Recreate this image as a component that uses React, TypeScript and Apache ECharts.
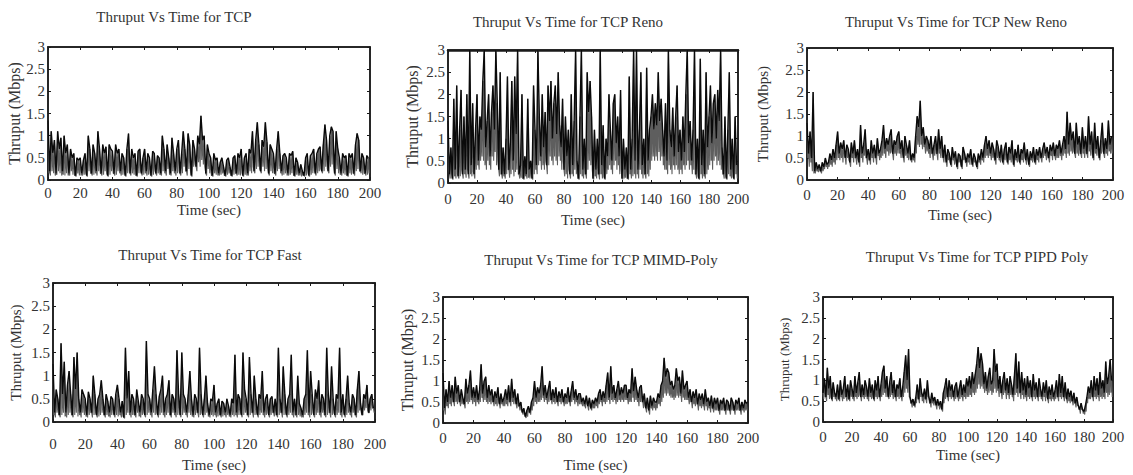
import React, { useEffect, useRef } from "react";
import * as echarts from "echarts";

// Throughput (Mbps) sampled once per second, t = 0 .. 199 s
const tcp = [
  1.35, 0.2, 1.1, 0.6, 0.9, 0.15, 1.1, 0.7, 0.95, 0.2,
  1.0, 0.6, 0.8, 0.15, 0.7, 0.5, 0.6, 0.1, 0.5, 0.45,
  0.5, 0.15, 0.45, 0.6, 0.1, 1.0, 0.7, 0.15, 0.8, 0.6,
  0.2, 1.1, 0.7, 0.15, 0.8, 0.6, 0.75, 0.1, 0.8, 0.7,
  0.65, 0.15, 0.8, 0.6, 0.7, 0.2, 0.6, 0.5, 0.1, 0.7,
  1.05, 0.15, 0.7, 0.5, 0.6, 0.1, 0.65, 0.7, 0.15, 0.5,
  0.7, 0.2, 0.6, 0.5, 0.1, 0.65, 0.6, 0.15, 0.55, 0.5,
  0.15, 1.0, 0.7, 0.2, 0.8, 0.5, 0.15, 0.95, 0.6, 0.2,
  0.7, 0.9, 0.15, 0.6, 1.1, 0.7, 0.2, 1.05, 0.8, 0.1,
  0.9, 0.7, 0.3, 1.0, 0.8, 1.45, 0.9, 1.0, 0.15, 0.8,
  0.6, 0.5, 0.1, 0.6, 0.45, 0.5, 0.15, 0.4, 0.5, 0.3,
  0.1, 0.45, 0.5, 0.3, 0.1, 0.5, 0.55, 0.15, 0.6, 0.5,
  0.7, 0.1, 0.5, 0.6, 0.15, 0.7, 0.6, 1.1, 0.2, 0.9,
  1.3, 0.8, 0.2, 0.9, 0.75, 1.3, 0.85, 0.15, 0.8, 0.7,
  0.6, 0.15, 0.7, 1.1, 0.6, 0.2, 0.55, 0.6, 0.5, 0.15,
  0.6, 0.55, 0.65, 0.1, 0.5, 0.4, 0.15, 0.35, 0.2, 0.1,
  0.5, 0.6, 0.1, 0.55, 0.6, 0.7, 0.15, 0.6, 0.7, 0.75,
  0.2, 0.8, 1.25, 0.9, 0.2, 1.0, 1.2, 1.1, 0.15, 1.1,
  0.7, 0.5, 0.15, 0.6, 0.5, 0.55, 0.1, 0.6, 0.5, 0.6,
  0.15, 0.8, 1.05, 0.9, 0.2, 0.6, 0.5, 0.15, 0.55, 0.5,
];
// troughs between consecutive samples (t + 0.5 s)
const tcpLow = [
  0.15, 0.1, 0.2, 0.15, 0.1, 0.12, 0.2, 0.15, 0.1, 0.12,
  0.1, 0.15, 0.1, 0.1, 0.2, 0.12, 0.1, 0.08, 0.15, 0.1,
  0.1, 0.1, 0.12, 0.15, 0.08, 0.2, 0.15, 0.1, 0.12, 0.15,
  0.1, 0.2, 0.15, 0.1, 0.12, 0.2, 0.15, 0.08, 0.12, 0.2,
  0.15, 0.1, 0.12, 0.2, 0.15, 0.1, 0.12, 0.15, 0.08, 0.15,
  0.2, 0.1, 0.15, 0.12, 0.1, 0.08, 0.15, 0.2, 0.1, 0.12,
  0.15, 0.1, 0.12, 0.15, 0.08, 0.12, 0.2, 0.1, 0.15, 0.12,
  0.1, 0.2, 0.15, 0.1, 0.25, 0.12, 0.1, 0.2, 0.15, 0.1,
  0.15, 0.2, 0.1, 0.15, 0.3, 0.2, 0.1, 0.25, 0.2, 0.08,
  0.3, 0.35, 0.2, 0.4, 0.3, 0.45, 0.35, 0.3, 0.1, 0.25,
  0.15, 0.1, 0.08, 0.15, 0.12, 0.1, 0.1, 0.12, 0.15, 0.1,
  0.08, 0.12, 0.15, 0.1, 0.08, 0.12, 0.15, 0.1, 0.12, 0.1,
  0.15, 0.08, 0.12, 0.1, 0.1, 0.2, 0.15, 0.3, 0.15, 0.25,
  0.3, 0.25, 0.15, 0.3, 0.2, 0.25, 0.3, 0.1, 0.2, 0.15,
  0.15, 0.1, 0.2, 0.25, 0.15, 0.1, 0.12, 0.15, 0.1, 0.1,
  0.12, 0.15, 0.1, 0.08, 0.12, 0.1, 0.1, 0.08, 0.1, 0.08,
  0.1, 0.15, 0.08, 0.12, 0.15, 0.2, 0.1, 0.15, 0.2, 0.25,
  0.15, 0.2, 0.3, 0.25, 0.15, 0.3, 0.35, 0.3, 0.1, 0.25,
  0.15, 0.12, 0.1, 0.15, 0.12, 0.1, 0.08, 0.15, 0.12, 0.15,
  0.1, 0.2, 0.25, 0.2, 0.15, 0.12, 0.15, 0.1, 0.12, 0.15,
];

const reno = [
  1.4, 0.2, 0.8, 0.1, 1.9, 0.3, 2.2, 0.15, 1.2, 2.1,
  0.2, 1.5, 0.3, 2.0, 0.2, 3.0, 0.4, 1.8, 0.2, 1.2,
  2.0, 0.5, 1.5, 1.2, 2.3, 3.0, 0.8, 1.4, 2.0, 0.6,
  1.6, 2.2, 1.2, 3.0, 1.8, 0.3, 2.5, 0.2, 0.8, 0.2,
  1.0, 2.4, 0.3, 0.9, 2.3, 0.5, 2.4, 1.1, 3.0, 0.2,
  0.4, 2.0, 0.1, 0.6, 0.2, 1.9, 0.3, 0.5, 0.1, 2.2,
  1.2, 0.4, 3.0, 1.5, 0.6, 2.0, 0.8, 1.6, 0.4, 2.2,
  1.4, 2.3, 1.0, 1.8, 2.2, 1.1, 2.5, 1.3, 0.8, 1.9,
  0.3, 1.5, 0.6, 1.2, 0.2, 2.0, 0.4, 1.4, 3.0, 0.5,
  0.1, 1.5, 3.0, 0.3, 1.0, 0.2, 2.5, 1.6, 2.3, 1.5,
  0.1, 1.2, 0.3, 1.0, 0.2, 3.0, 0.4, 1.3, 0.1, 1.0,
  0.6, 2.0, 1.2, 0.5, 1.8, 2.0, 0.9, 1.5, 0.6, 2.1,
  0.1, 1.0, 0.3, 0.8, 0.1, 2.4, 0.3, 1.0, 3.0, 0.5,
  3.0, 0.3, 1.2, 2.5, 0.4, 1.0, 0.2, 2.6, 0.5, 1.2,
  1.5, 2.0, 1.2, 1.8, 1.3, 2.5, 1.4, 1.9, 1.2, 0.6,
  1.8, 0.5, 3.0, 1.2, 0.8, 1.7, 0.6, 1.5, 2.2, 0.7,
  1.2, 0.5, 1.5, 0.7, 2.0, 3.0, 0.9, 1.4, 0.5, 1.2,
  3.0, 0.2, 1.0, 0.1, 2.8, 0.4, 1.2, 0.2, 2.5, 0.8,
  1.5, 2.2, 0.9, 1.8, 2.0, 1.0, 2.1, 1.4, 3.0, 0.8,
  0.2, 1.5, 0.1, 1.2, 2.5, 0.3, 1.0, 0.1, 1.5, 0.4,
];
const renoLow = [
  0.3, 0.1, 0.2, 0.08, 0.15, 0.1, 0.2, 0.1, 0.15, 0.3,
  0.1, 0.2, 0.12, 0.3, 0.1, 0.2, 0.15, 0.25, 0.1, 0.3,
  0.4, 0.3, 0.5, 0.6, 0.5, 0.4, 0.3, 0.5, 0.4, 0.3,
  0.6, 0.5, 0.7, 0.4, 0.5, 0.15, 0.2, 0.1, 0.15, 0.1,
  0.2, 0.3, 0.12, 0.2, 0.3, 0.15, 0.25, 0.3, 0.2, 0.1,
  0.12, 0.1, 0.08, 0.15, 0.1, 0.12, 0.1, 0.15, 0.08, 0.2,
  0.3, 0.2, 0.4, 0.5, 0.3, 0.4, 0.3, 0.5, 0.2, 0.4,
  0.6, 0.5, 0.4, 0.6, 0.5, 0.4, 0.6, 0.5, 0.3, 0.5,
  0.15, 0.2, 0.1, 0.3, 0.1, 0.2, 0.15, 0.3, 0.2, 0.1,
  0.08, 0.2, 0.15, 0.1, 0.2, 0.1, 0.3, 0.5, 0.4, 0.3,
  0.08, 0.15, 0.1, 0.2, 0.08, 0.2, 0.1, 0.15, 0.08, 0.2,
  0.3, 0.4, 0.3, 0.2, 0.4, 0.5, 0.3, 0.4, 0.2, 0.3,
  0.08, 0.1, 0.12, 0.1, 0.08, 0.2, 0.1, 0.15, 0.2, 0.1,
  0.2, 0.1, 0.3, 0.2, 0.1, 0.2, 0.1, 0.2, 0.15, 0.3,
  0.5, 0.6, 0.5, 0.6, 0.5, 0.7, 0.5, 0.6, 0.4, 0.3,
  0.3, 0.2, 0.4, 0.3, 0.2, 0.4, 0.3, 0.4, 0.3, 0.2,
  0.3, 0.2, 0.4, 0.3, 0.4, 0.5, 0.3, 0.4, 0.2, 0.3,
  0.2, 0.1, 0.15, 0.08, 0.2, 0.1, 0.15, 0.1, 0.2, 0.3,
  0.4, 0.5, 0.3, 0.5, 0.6, 0.4, 0.5, 0.4, 0.3, 0.2,
  0.1, 0.15, 0.08, 0.2, 0.15, 0.1, 0.15, 0.08, 0.2, 0.1,
];

const newReno = [
  1.3, 0.6, 1.1, 0.5, 2.0, 0.2, 0.4, 0.25, 0.35, 0.2,
  0.4, 0.3, 0.5, 0.35, 0.4, 0.6, 0.45, 0.7, 0.5, 0.8,
  1.1, 0.6, 0.85, 0.7, 0.9, 0.5, 0.8, 0.7, 0.4, 0.85,
  0.6, 0.9, 0.5, 0.7, 0.4, 1.25, 0.6, 0.8, 1.15, 0.5,
  0.7, 0.45, 0.9, 0.6, 0.8, 0.5, 0.95, 0.6, 0.7, 0.9,
  1.25, 0.7, 0.95, 0.8, 1.0, 1.15, 0.6, 0.9, 0.8, 1.0,
  1.1, 0.7, 0.9, 0.5, 1.0, 0.8, 0.6, 0.9, 0.45, 0.6,
  0.5, 1.0, 1.45, 1.2, 1.8, 1.0, 1.2, 0.8, 1.0, 0.9,
  0.7, 1.0, 0.6, 0.8, 1.0, 0.6, 1.15, 0.7, 1.0, 0.5,
  0.8, 0.4, 0.7, 0.6, 0.35, 0.75, 0.5, 0.65, 0.3, 0.6,
  0.55, 0.3, 0.75, 0.6, 0.4, 0.6, 0.5, 0.7, 0.35, 0.6,
  0.5, 0.3, 0.6, 0.45, 0.7, 0.5, 0.8, 1.0, 0.7, 0.9,
  0.6, 0.85, 0.7, 0.45, 0.9, 0.75, 0.5, 0.8, 0.4, 0.7,
  0.85, 0.4, 0.75, 0.6, 0.9, 0.35, 0.7, 0.5, 0.8, 0.4,
  0.7, 0.6, 0.85, 0.45, 0.7, 0.35, 0.65, 0.5, 0.75, 0.4,
  0.7, 0.55, 0.75, 0.5, 0.7, 0.85, 0.6, 0.75, 0.5, 0.8,
  0.65, 0.85, 0.55, 0.8, 0.7, 0.9, 0.6, 0.8, 1.0, 0.7,
  1.55, 0.8, 1.3, 0.9, 1.1, 0.6, 1.3, 0.8, 1.0, 0.6,
  1.2, 0.7, 1.0, 0.6, 1.45, 0.8, 1.1, 0.5, 1.3, 0.7,
  1.0, 0.5, 0.9, 1.3, 0.6, 0.95, 0.7, 1.35, 0.8, 1.0,
];
const newRenoLow = [
  0.5, 0.3, 0.4, 0.2, 0.15, 0.15, 0.2, 0.18, 0.2, 0.15,
  0.2, 0.25, 0.3, 0.25, 0.3, 0.35, 0.3, 0.4, 0.35, 0.45,
  0.5, 0.45, 0.5, 0.4, 0.55, 0.35, 0.5, 0.45, 0.3, 0.5,
  0.4, 0.5, 0.35, 0.45, 0.3, 0.5, 0.4, 0.55, 0.5, 0.35,
  0.45, 0.35, 0.5, 0.4, 0.5, 0.35, 0.55, 0.45, 0.5, 0.55,
  0.6, 0.5, 0.65, 0.55, 0.6, 0.65, 0.45, 0.6, 0.55, 0.6,
  0.6, 0.5, 0.6, 0.4, 0.55, 0.5, 0.45, 0.5, 0.4, 0.45,
  0.4, 0.6, 0.8, 0.75, 0.8, 0.7, 0.75, 0.6, 0.65, 0.6,
  0.5, 0.6, 0.45, 0.55, 0.6, 0.45, 0.6, 0.5, 0.55, 0.4,
  0.5, 0.3, 0.45, 0.4, 0.3, 0.45, 0.35, 0.4, 0.25, 0.4,
  0.35, 0.25, 0.45, 0.4, 0.3, 0.4, 0.35, 0.45, 0.3, 0.4,
  0.35, 0.25, 0.4, 0.35, 0.45, 0.4, 0.5, 0.55, 0.5, 0.55,
  0.45, 0.5, 0.45, 0.35, 0.5, 0.45, 0.4, 0.45, 0.35, 0.45,
  0.5, 0.35, 0.45, 0.4, 0.5, 0.3, 0.45, 0.4, 0.45, 0.35,
  0.45, 0.4, 0.5, 0.35, 0.45, 0.3, 0.45, 0.4, 0.45, 0.35,
  0.45, 0.4, 0.5, 0.4, 0.5, 0.55, 0.45, 0.5, 0.4, 0.55,
  0.45, 0.55, 0.45, 0.5, 0.5, 0.55, 0.45, 0.55, 0.6, 0.5,
  0.6, 0.55, 0.65, 0.6, 0.65, 0.5, 0.6, 0.55, 0.6, 0.5,
  0.6, 0.5, 0.6, 0.5, 0.65, 0.55, 0.6, 0.45, 0.6, 0.55,
  0.6, 0.45, 0.6, 0.65, 0.5, 0.6, 0.55, 0.65, 0.6, 0.6,
];

const fast = [
  1.25, 0.2, 0.7, 0.5, 0.15, 1.7, 0.6, 1.3, 0.2, 0.8,
  1.1, 0.6, 0.15, 1.4, 0.7, 1.5, 0.5, 0.2, 0.7, 0.6,
  0.5, 0.15, 0.65, 0.5, 0.2, 1.0, 0.6, 0.15, 0.5, 0.6,
  0.9, 0.5, 0.15, 0.6, 0.45, 0.2, 0.55, 0.5, 0.15, 0.6,
  0.8, 0.5, 0.2, 0.45, 0.1, 1.6, 0.5, 1.1, 0.2, 0.6,
  0.5, 0.15, 0.7, 0.45, 0.2, 0.6, 0.5, 0.15, 1.75, 0.6,
  0.5, 0.2, 0.7, 1.2, 0.6, 0.15, 0.55, 0.7, 1.0, 0.2,
  0.5, 0.6, 0.9, 0.15, 0.6, 0.5, 0.2, 1.55, 0.6, 0.15,
  1.5, 0.6, 0.5, 0.2, 0.6, 1.1, 0.5, 0.15, 0.6, 0.5,
  0.2, 1.6, 0.6, 0.15, 0.5, 1.0, 0.4, 0.15, 0.5, 0.45,
  0.8, 0.2, 0.4, 0.5, 0.15, 0.45, 0.4, 0.2, 0.5, 0.35,
  0.15, 0.5, 0.4, 1.45, 0.2, 0.6, 0.5, 0.15, 1.5, 0.7,
  0.5, 0.15, 1.4, 0.6, 0.2, 1.0, 0.5, 0.15, 0.6, 0.5,
  1.1, 0.2, 0.5, 0.6, 0.15, 0.5, 0.55, 0.2, 0.5, 0.15,
  1.6, 0.5, 0.2, 1.2, 0.6, 0.15, 0.5, 0.6, 1.45, 0.2,
  0.5, 0.15, 1.0, 0.4, 0.3, 0.15, 0.5, 0.6, 1.55, 0.2,
  1.1, 0.6, 0.15, 0.7, 0.5, 0.9, 0.2, 0.6, 0.5, 0.15,
  1.6, 0.6, 0.2, 1.2, 0.5, 0.15, 0.6, 0.5, 1.6, 0.2,
  0.6, 0.15, 0.5, 1.0, 0.4, 0.2, 0.6, 0.5, 0.15, 0.7,
  1.1, 0.4, 0.15, 0.6, 0.5, 0.8, 0.2, 0.5, 0.6, 0.3,
];
const fastLow = [
  0.15, 0.1, 0.2, 0.15, 0.1, 0.15, 0.2, 0.12, 0.1, 0.15,
  0.2, 0.15, 0.1, 0.15, 0.2, 0.12, 0.15, 0.1, 0.2, 0.15,
  0.12, 0.1, 0.15, 0.2, 0.1, 0.15, 0.2, 0.1, 0.12, 0.15,
  0.2, 0.15, 0.1, 0.15, 0.12, 0.1, 0.15, 0.2, 0.1, 0.15,
  0.12, 0.15, 0.1, 0.12, 0.08, 0.15, 0.2, 0.15, 0.1, 0.15,
  0.15, 0.1, 0.2, 0.12, 0.1, 0.15, 0.2, 0.1, 0.15, 0.2,
  0.15, 0.1, 0.2, 0.15, 0.2, 0.1, 0.15, 0.2, 0.15, 0.1,
  0.15, 0.2, 0.15, 0.1, 0.2, 0.15, 0.1, 0.15, 0.2, 0.1,
  0.15, 0.2, 0.15, 0.1, 0.2, 0.15, 0.12, 0.1, 0.15, 0.2,
  0.1, 0.15, 0.2, 0.1, 0.15, 0.2, 0.12, 0.1, 0.15, 0.12,
  0.15, 0.1, 0.12, 0.15, 0.1, 0.12, 0.15, 0.1, 0.15, 0.12,
  0.1, 0.15, 0.12, 0.15, 0.1, 0.15, 0.2, 0.1, 0.15, 0.2,
  0.15, 0.1, 0.15, 0.2, 0.1, 0.15, 0.2, 0.1, 0.15, 0.2,
  0.15, 0.1, 0.15, 0.2, 0.1, 0.15, 0.2, 0.12, 0.15, 0.1,
  0.15, 0.2, 0.1, 0.15, 0.2, 0.1, 0.15, 0.2, 0.15, 0.1,
  0.15, 0.1, 0.15, 0.12, 0.1, 0.1, 0.15, 0.2, 0.15, 0.1,
  0.15, 0.2, 0.1, 0.15, 0.2, 0.15, 0.1, 0.2, 0.15, 0.1,
  0.15, 0.2, 0.1, 0.15, 0.2, 0.1, 0.15, 0.2, 0.15, 0.1,
  0.2, 0.1, 0.15, 0.2, 0.15, 0.1, 0.2, 0.15, 0.1, 0.2,
  0.25, 0.2, 0.15, 0.25, 0.3, 0.25, 0.2, 0.25, 0.3, 0.2,
];

const mimdPoly = [
  1.2, 0.35, 0.8, 0.5, 1.0, 0.6, 0.9, 0.5, 1.1, 0.7,
  0.9, 0.5, 0.8, 0.6, 0.45, 1.05, 0.7, 0.9, 1.25, 0.6,
  0.85, 0.6, 0.9, 0.55, 0.8, 1.4, 0.7, 1.0, 1.1, 0.6,
  0.9, 0.65, 0.8, 0.5, 0.75, 0.6, 0.85, 0.45, 0.7, 0.5,
  0.6, 0.8, 0.55, 0.9, 0.5, 1.05, 0.6, 0.8, 0.45, 0.7,
  0.4, 0.5, 0.25, 0.35, 0.15, 0.3, 0.4, 0.25, 0.5, 0.6,
  1.0, 0.6, 0.85, 0.7, 0.9, 1.35, 0.65, 0.9, 0.6, 0.8,
  1.0, 0.55, 0.8, 0.6, 0.85, 0.5, 0.75, 0.6, 0.8, 0.5,
  0.7, 0.6, 0.85, 0.5, 0.75, 1.0, 0.6, 0.8, 0.55, 0.7,
  0.7, 0.5, 0.6, 0.45, 0.65, 0.4, 0.6, 0.35, 0.55, 0.45,
  0.6, 0.5, 0.7, 0.8, 0.55, 0.75, 0.6, 0.9, 1.2, 0.6,
  1.35, 0.7, 0.9, 0.6, 0.8, 1.0, 0.65, 0.85, 0.7, 0.9,
  0.9, 0.6, 0.8, 0.7, 1.3, 0.75, 1.1, 0.8, 0.6, 0.85,
  0.9, 0.5, 0.7, 0.35, 0.6, 0.3, 0.65, 0.4, 0.6, 0.5,
  0.5, 0.7, 0.6, 0.9, 1.0, 1.55, 1.1, 1.3, 1.2, 0.9,
  1.0, 0.8, 0.9, 1.3, 1.0, 1.1, 0.7, 1.25, 0.8, 0.9,
  1.0, 0.6, 0.8, 0.5, 0.75, 0.6, 0.8, 0.45, 0.7, 0.55,
  0.7, 0.45, 0.8, 0.5, 0.6, 0.4, 0.65, 0.35, 0.6, 0.45,
  0.6, 0.3, 0.55, 0.45, 0.6, 0.3, 0.55, 0.5, 0.3, 0.6,
  0.5, 0.3, 0.55, 0.45, 0.6, 0.3, 0.5, 0.35, 0.55, 0.45,
];
const mimdPolyLow = [
  0.3, 0.2, 0.4, 0.35, 0.45, 0.4, 0.5, 0.4, 0.5, 0.45,
  0.5, 0.4, 0.45, 0.45, 0.35, 0.5, 0.45, 0.5, 0.55, 0.45,
  0.5, 0.4, 0.5, 0.45, 0.5, 0.6, 0.5, 0.55, 0.5, 0.45,
  0.5, 0.45, 0.5, 0.4, 0.45, 0.4, 0.5, 0.35, 0.45, 0.4,
  0.4, 0.45, 0.4, 0.5, 0.4, 0.5, 0.45, 0.5, 0.35, 0.4,
  0.3, 0.3, 0.2, 0.2, 0.12, 0.15, 0.25, 0.2, 0.3, 0.4,
  0.5, 0.45, 0.5, 0.5, 0.55, 0.6, 0.5, 0.55, 0.45, 0.5,
  0.55, 0.45, 0.5, 0.45, 0.5, 0.4, 0.5, 0.45, 0.5, 0.4,
  0.45, 0.45, 0.5, 0.4, 0.5, 0.55, 0.45, 0.5, 0.4, 0.45,
  0.45, 0.4, 0.4, 0.35, 0.45, 0.3, 0.4, 0.3, 0.35, 0.35,
  0.4, 0.35, 0.45, 0.5, 0.4, 0.5, 0.45, 0.5, 0.55, 0.45,
  0.55, 0.5, 0.55, 0.45, 0.5, 0.55, 0.5, 0.55, 0.5, 0.55,
  0.55, 0.45, 0.5, 0.5, 0.6, 0.5, 0.55, 0.5, 0.4, 0.5,
  0.5, 0.35, 0.4, 0.25, 0.35, 0.2, 0.35, 0.3, 0.35, 0.3,
  0.35, 0.45, 0.4, 0.5, 0.6, 0.7, 0.65, 0.7, 0.65, 0.6,
  0.6, 0.55, 0.6, 0.65, 0.6, 0.65, 0.5, 0.6, 0.55, 0.55,
  0.55, 0.45, 0.5, 0.35, 0.45, 0.4, 0.45, 0.3, 0.4, 0.35,
  0.4, 0.3, 0.4, 0.3, 0.35, 0.25, 0.35, 0.25, 0.3, 0.3,
  0.3, 0.2, 0.3, 0.3, 0.3, 0.2, 0.3, 0.3, 0.2, 0.3,
  0.3, 0.2, 0.3, 0.3, 0.3, 0.2, 0.3, 0.25, 0.3, 0.3,
];

const pipdPoly = [
  0.7, 1.05, 0.6, 1.3, 0.8, 1.1, 0.55, 0.95, 0.7, 0.6,
  0.9, 0.55, 1.0, 0.65, 0.8, 1.1, 0.6, 0.9, 0.55, 1.0,
  0.8, 0.6, 1.1, 0.7, 0.95, 1.2, 0.6, 0.9, 0.65, 1.0,
  0.85, 0.6, 1.05, 0.7, 0.9, 0.55, 1.0, 0.75, 1.1, 0.6,
  0.9, 1.2, 1.35, 0.8, 1.1, 0.6, 0.95, 1.2, 0.7, 1.0,
  0.6, 0.9, 0.8, 1.05, 0.6, 0.85, 1.2, 1.6, 1.0, 1.75,
  0.6, 0.45, 0.55, 0.4, 0.6, 0.9, 0.55, 1.05, 0.7, 0.6,
  0.8, 0.55, 1.0, 0.6, 0.45, 0.7, 0.5, 0.6, 0.4, 0.55,
  0.4, 0.5, 0.3, 0.7, 0.85, 1.05, 0.6, 1.0, 0.75, 0.9,
  0.6, 0.85, 0.95, 0.6, 0.8, 1.0, 0.65, 0.9, 0.7, 1.05,
  0.85, 1.1, 0.8, 1.2, 0.9, 1.15, 1.4, 1.8, 1.3, 1.65,
  1.4, 0.9, 1.2, 0.8, 1.1, 1.3, 0.9, 1.0, 1.75, 1.2,
  1.4, 0.8, 1.1, 0.7, 1.0, 1.2, 0.75, 1.05, 0.7, 1.1,
  0.9, 0.65, 1.1, 1.65, 0.8, 1.45, 0.7, 1.2, 0.75, 1.05,
  0.65, 1.1, 0.8, 1.0, 0.6, 1.15, 0.75, 0.95, 0.6, 1.05,
  0.8, 0.6, 0.95, 0.7, 1.0, 0.55, 0.85, 0.65, 0.9, 0.6,
  0.75, 1.0, 0.6, 1.15, 0.7, 1.1, 0.6, 0.95, 0.55, 0.8,
  0.6, 0.75, 0.5, 0.7, 0.45, 0.6, 0.4, 0.3, 0.45, 0.3,
  0.25, 0.4, 0.6, 0.85, 0.7, 1.0, 0.6, 1.1, 0.75, 1.05,
  0.65, 1.2, 0.8, 1.0, 0.7, 1.45, 0.9, 1.1, 1.5, 1.0,
];
const pipdPolyLow = [
  0.55, 0.6, 0.5, 0.65, 0.55, 0.6, 0.5, 0.6, 0.55, 0.5,
  0.55, 0.5, 0.6, 0.5, 0.55, 0.6, 0.5, 0.55, 0.5, 0.6,
  0.55, 0.5, 0.6, 0.55, 0.6, 0.65, 0.5, 0.6, 0.55, 0.6,
  0.55, 0.5, 0.6, 0.55, 0.6, 0.5, 0.6, 0.55, 0.6, 0.5,
  0.6, 0.65, 0.7, 0.6, 0.65, 0.55, 0.6, 0.65, 0.55, 0.6,
  0.5, 0.6, 0.55, 0.6, 0.5, 0.6, 0.7, 0.8, 0.7, 0.6,
  0.45, 0.35, 0.4, 0.35, 0.45, 0.55, 0.45, 0.6, 0.5, 0.45,
  0.55, 0.45, 0.6, 0.45, 0.35, 0.45, 0.4, 0.45, 0.3, 0.4,
  0.3, 0.35, 0.25, 0.45, 0.55, 0.6, 0.5, 0.6, 0.55, 0.6,
  0.5, 0.55, 0.6, 0.5, 0.55, 0.6, 0.5, 0.6, 0.55, 0.6,
  0.6, 0.65, 0.6, 0.7, 0.65, 0.7, 0.8, 0.9, 0.8, 0.85,
  0.8, 0.7, 0.75, 0.65, 0.7, 0.75, 0.65, 0.7, 0.8, 0.7,
  0.75, 0.6, 0.7, 0.55, 0.65, 0.7, 0.55, 0.65, 0.55, 0.65,
  0.6, 0.5, 0.65, 0.7, 0.6, 0.7, 0.55, 0.65, 0.55, 0.6,
  0.5, 0.6, 0.55, 0.6, 0.5, 0.6, 0.55, 0.6, 0.5, 0.6,
  0.55, 0.5, 0.6, 0.5, 0.6, 0.45, 0.55, 0.5, 0.55, 0.5,
  0.55, 0.6, 0.5, 0.6, 0.55, 0.6, 0.5, 0.6, 0.45, 0.5,
  0.45, 0.5, 0.4, 0.45, 0.35, 0.4, 0.3, 0.2, 0.3, 0.2,
  0.18, 0.25, 0.45, 0.55, 0.55, 0.6, 0.5, 0.6, 0.55, 0.6,
  0.5, 0.6, 0.55, 0.6, 0.55, 0.7, 0.6, 0.65, 0.7, 0.6,
];

const titles = [
  "Thruput Vs Time for TCP",
  "Thruput Vs Time for TCP Reno",
  "Thruput Vs Time for TCP New Reno",
  "Thruput Vs Time for TCP Fast",
  "Thruput Vs Time for TCP MIMD-Poly",
  "Thruput Vs Time for TCP PIPD Poly",
];
const seriesValues = [tcp, reno, newReno, fast, mimdPoly, pipdPoly];
const seriesLows = [tcpLow, renoLow, newRenoLow, fastLow, mimdPolyLow, pipdPolyLow];
const xAxisTitle = "Time (sec)";
const yAxisTitle = "Thruput (Mbps)";
const xMin = 0, xMax = 200, xStep = 20;
const yMin = 0, yMax = 3, yStep = 0.5;

// layout only
const layout = [
  { grid: { left: 48, top: 47, width: 322, height: 133 }, title: [174, 17], xGap: 22, xMargin: 5, yGap: 24, ySize: 16 },
  { grid: { left: 448, top: 50, width: 290, height: 133 }, title: [568, 22], xGap: 29, xMargin: 8, yGap: 28, ySize: 16 },
  { grid: { left: 807, top: 48, width: 306, height: 132 }, title: [956, 22], xGap: 27, xMargin: 7, yGap: 37, ySize: 15 },
  { grid: { left: 53, top: 283, width: 322, height: 139 }, title: [210, 255], xGap: 35, xMargin: 14, yGap: 30, ySize: 15 },
  { grid: { left: 443, top: 297, width: 305, height: 126 }, title: [601, 260], xGap: 34, xMargin: 7, yGap: 28, ySize: 16 },
  { grid: { left: 823, top: 297, width: 290, height: 125 }, title: [977, 257], xGap: 25, xMargin: 7, yGap: 32, ySize: 13 },
];

const FONT = "Liberation Serif";
const TEXT = "#333";

export default function App() {
  const ref = useRef<HTMLDivElement>(null);
  useEffect(() => {
    if (!ref.current) return;
    const chart = echarts.init(ref.current, undefined, { renderer: "svg" });
    const grids: any[] = [];
    const xAxes: any[] = [];
    const yAxes: any[] = [];
    const series: any[] = [];
    const graphics: any[] = [];
    const tickStyle = { show: true, inside: true, length: 3, lineStyle: { color: "#1a1a1a" } };
    layout.forEach((L, i) => {
      grids.push({ ...L.grid, show: true, borderColor: "#1a1a1a", borderWidth: 1.5, backgroundColor: "#fff" });
      const common = { min: xMin, max: xMax, interval: xStep, gridIndex: i, type: "value" as const };
      xAxes.push({
        ...common,
        position: "bottom",
        name: xAxisTitle,
        nameLocation: "middle",
        nameGap: L.xGap,
        nameTextStyle: { fontFamily: FONT, fontSize: 15, fontWeight: "normal", color: TEXT },
        axisLine: { show: true, onZero: false, lineStyle: { color: "#1a1a1a", width: 1.5 } },
        axisTick: tickStyle,
        axisLabel: { fontFamily: FONT, fontSize: 15, fontWeight: "normal", color: TEXT, margin: L.xMargin },
        splitLine: { show: false },
      });
      xAxes.push({
        ...common,
        position: "top",
        axisLine: { show: true, onZero: false, lineStyle: { color: "#1a1a1a", width: i === 1 ? 2.5 : 1.5 } },
        axisTick: tickStyle,
        axisLabel: { show: false },
        splitLine: { show: false },
      });
      const ycommon = { min: yMin, max: yMax, interval: yStep, gridIndex: i, type: "value" as const };
      yAxes.push({
        ...ycommon,
        position: "left",
        name: yAxisTitle,
        nameLocation: "middle",
        nameGap: L.yGap,
        nameTextStyle: { fontFamily: FONT, fontSize: L.ySize, fontWeight: "normal", color: TEXT },
        axisLine: { show: true, onZero: false, lineStyle: { color: "#1a1a1a", width: 1.5 } },
        axisTick: tickStyle,
        axisLabel: { fontFamily: FONT, fontSize: 15, fontWeight: "normal", color: TEXT, margin: 3 },
        splitLine: { show: false },
      });
      yAxes.push({
        ...ycommon,
        position: "right",
        axisLine: { show: true, onZero: false, lineStyle: { color: "#1a1a1a", width: 1.5 } },
        axisTick: tickStyle,
        axisLabel: { show: false },
        splitLine: { show: false },
      });
      const vals = seriesValues[i];
      const lows = seriesLows[i];
      const hatch: number[][] = [];
      vals.forEach((v, t) => {
        hatch.push([t, v]);
        hatch.push([t + 0.5, lows[t]]);
      });
      const main = vals.map((v, t) => [t, v]);
      series.push({
        type: "line",
        xAxisIndex: i * 2,
        yAxisIndex: i * 2,
        data: hatch,
        showSymbol: false,
        symbol: "none",
        lineStyle: { color: "#5e5e5e", width: 1.1 },
        z: 2,
        silent: true,
      });
      series.push({
        type: "line",
        xAxisIndex: i * 2,
        yAxisIndex: i * 2,
        data: main,
        showSymbol: false,
        symbol: "none",
        lineStyle: { color: "#0a0a0a", width: 1.4 },
        z: 3,
      });
      graphics.push({
        type: "text",
        x: L.title[0],
        y: L.title[1],
        style: {
          text: titles[i],
          fontFamily: FONT,
          fontSize: 15,
          fontWeight: "normal",
          fill: TEXT,
          align: "center",
          verticalAlign: "middle",
        },
      });
    });
    chart.setOption({
      animation: false,
      backgroundColor: "#fff",
      grid: grids,
      xAxis: xAxes,
      yAxis: yAxes,
      series,
      graphic: graphics,
    });
    return () => chart.dispose();
  }, []);
  return (
    <div
      ref={ref}
      style={{ position: "absolute", left: 0, top: 0, width: 1133, height: 475, background: "#fff" }}
    />
  );
}
